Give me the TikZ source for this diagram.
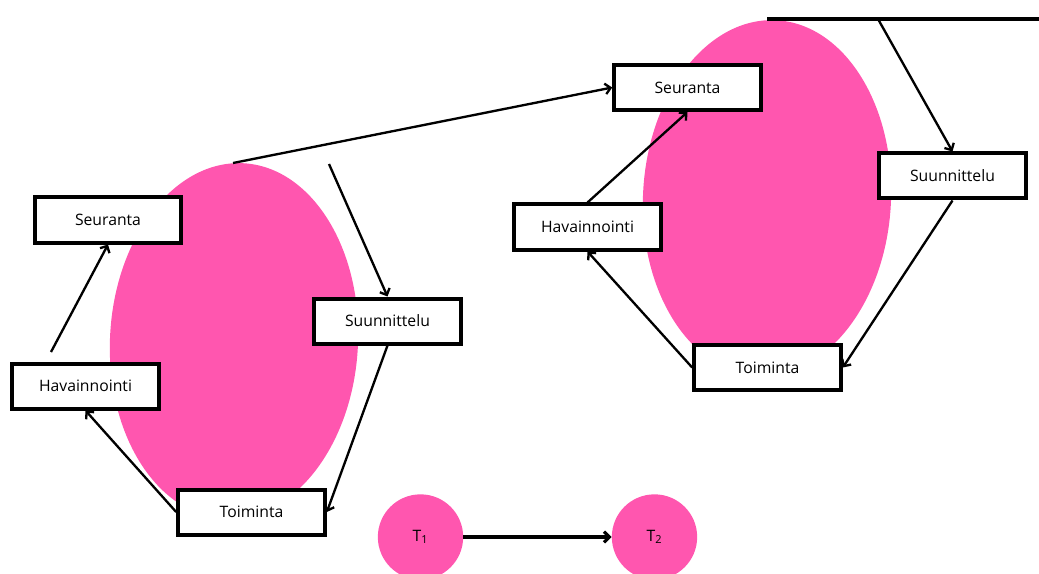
\documentclass[tikz,border=0pt]{standalone}
\usepackage{fontspec}
\setmainfont{Open Sans}
\usepackage{tikz}
\usetikzlibrary{arrows.meta,positioning}
\definecolor{cyclepink}{HTML}{FF56AF}

\begin{document}
\begin{tikzpicture}[x=0.75pt,y=-0.75pt,>={Straight Barb[length=4pt,width=8pt]},
  phase/.style={draw=black,line width=3pt,fill=white,minimum width=110pt,minimum height=33.75pt,inner sep=0pt,font=\fontsize{11.8}{14}\selectfont},
  link/.style={->,line width=1.75pt},
  time/.style={circle,fill=cyclepink,minimum size=64pt,inner sep=0pt,font=\fontsize{11.8}{14}\selectfont}]
  \useasboundingbox (0,0) rectangle (1039,574);

  % the two cycles
  \fill[cyclepink,rotate around={-3:(234,341)}] (234,341) ellipse [x radius=124, y radius=178];
  \fill[cyclepink,rotate around={-3:(767,198)}] (767,198) ellipse [x radius=124, y radius=178];

  \coordinate (hstartL) at (51,352);
  \coordinate (topL) at (233,163);
  \coordinate (feedL) at (329,164);
  \coordinate (lineR) at (767,19);
  \coordinate (lineEnd) at (1039,19);
  \coordinate (feedR) at (878,19);

  \node[phase] (seurL) at (108,220) {Seuranta};
  \node[phase] (havL) at (85.5,386) {Havainnointi};
  \node[phase] (suunL) at (387.5,321) {Suunnittelu};
  \node[phase] (toimL) at (251.5,512) {Toiminta};

  \node[phase] (seurR) at (687.5,87.5) {Seuranta};
  \node[phase] (havR) at (587.5,227) {Havainnointi};
  \node[phase] (suunR) at (952.5,176) {Suunnittelu};
  \node[phase] (toimR) at (767.5,367.5) {Toiminta};

  \node[time] (t1) at (420.5,537) {T\textsubscript{1}};
  \node[time] (t2) at (654.5,537) {T\textsubscript{2}};

  % first cycle
  \draw[link] (hstartL) -- (seurL.south);
  \draw[link] (toimL.west) -- (havL.south);
  \draw[link] (suunL.south) -- (toimL.east);
  \draw[link] (feedL) -- (suunL.north);
  \draw[link] (topL) -- (seurR.west);

  % second cycle
  \draw[link] (havR.north) -- (seurR.south);
  \draw[link] (toimR.west) -- (havR.south);
  \draw[link] (suunR.south) -- (toimR.east);
  \draw[line width=2.5pt] (lineR) -- (lineEnd);
  \draw[link] (feedR) -- (suunR.north);

  \draw[link,line width=2.4pt] (t1) -- (t2);
\end{tikzpicture}
\end{document}
